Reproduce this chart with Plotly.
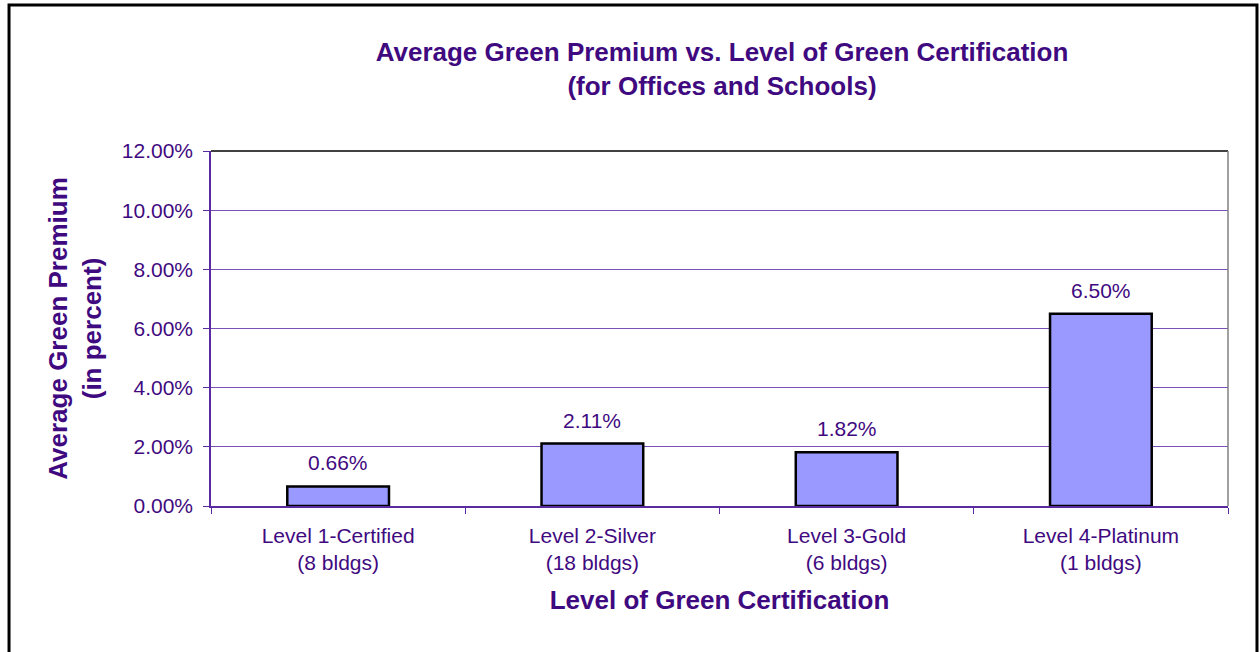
import plotly.graph_objects as go

# Chart data
levels = ["Level 1-Certified", "Level 2-Silver", "Level 3-Gold", "Level 4-Platinum"]
bldg_counts = [8, 18, 6, 1]
premiums = [0.0066, 0.0211, 0.0182, 0.0650]

categories = [f"{lvl}<br>({n} bldgs)" for lvl, n in zip(levels, bldg_counts)]

text_color = "#3f0a80"
axis_color = "#5a2aa0"
font_family = "Liberation Sans, Arial, sans-serif"

# Bar trace
trace = go.Bar(
    x=categories,
    y=premiums,
    marker=dict(color="#9999ff", line=dict(color="black", width=2.5)),
    width=0.4,
    hoverinfo="x+y",
)

fig = go.Figure(data=[trace])

# Value labels above each bar
for cat, val in zip(categories, premiums):
    fig.add_annotation(
        x=cat, y=val, text=f"{val:.2%}",
        showarrow=False, yanchor="bottom", yshift=10,
        font=dict(size=21, color=text_color, family=font_family),
    )

fig.update_layout(
    width=1260,
    height=652,
    margin={"l": 211, "r": 32, "t": 151, "b": 146},
    paper_bgcolor="white",
    plot_bgcolor="white",
    showlegend=False,
    font=dict(family=font_family, color=text_color, size=21),
    title=dict(
        text="<b>Average Green Premium vs. Level of Green Certification<br>(for Offices and Schools)</b>",
        x=0.573, xanchor="center",
        y=0.9065, yanchor="middle", yref="container",
        font=dict(size=26, color=text_color),
    ),
    xaxis=dict(
        title=dict(text="<b>Level of Green Certification</b>",
                   font=dict(size=26, color=text_color), standoff=18),
        showline=True, linecolor=axis_color, linewidth=1.5,
        ticks="outside", tickson="boundaries", ticklen=6, tickcolor=axis_color,
        ticklabelstandoff=10,
        tickfont=dict(size=21, color=text_color),
        showgrid=False,
    ),
    yaxis=dict(
        title=dict(text="<b>Average Green Premium<br>(in percent)</b>",
                   font=dict(size=26, color=text_color), standoff=13),
        range=[0, 0.12], dtick=0.02, tickformat=".2%",
        showline=True, linecolor=axis_color, linewidth=1.5,
        ticks="outside", ticklen=6, tickcolor=axis_color,
        ticklabelstandoff=6,
        tickfont=dict(size=21, color=text_color),
        showgrid=True, gridcolor="#7a4fb8", gridwidth=1,
        zeroline=False,
    ),
    shapes=[
        # top edge of plot area
        dict(type="line", xref="paper", yref="paper", x0=0, x1=1, y0=1, y1=1,
             line=dict(color="black", width=1.5)),
        # right edge of plot area
        dict(type="line", xref="paper", yref="paper", x0=1, x1=1, y0=0, y1=1,
             line=dict(color="#808080", width=1.5)),
        # outer chart frame
        dict(type="rect", xref="paper", yref="paper",
             x0=-0.1986, x1=1.0285, y0=-0.5, y1=1.4113,
             line=dict(color="black", width=3)),
    ],
)

# Save to HTML
html_file = "out.html"
fig.write_html(html_file, config={"displayModeBar": False})

# Drop the default body margin so the figure sits at the page corner
with open(html_file, "r", encoding="utf-8") as f:
    html_content = f.read()

html_content = html_content.replace(
    "<head>", "<head>\n<style>body { margin: 0; }</style>", 1)

with open(html_file, "w", encoding="utf-8") as f:
    f.write(html_content)
